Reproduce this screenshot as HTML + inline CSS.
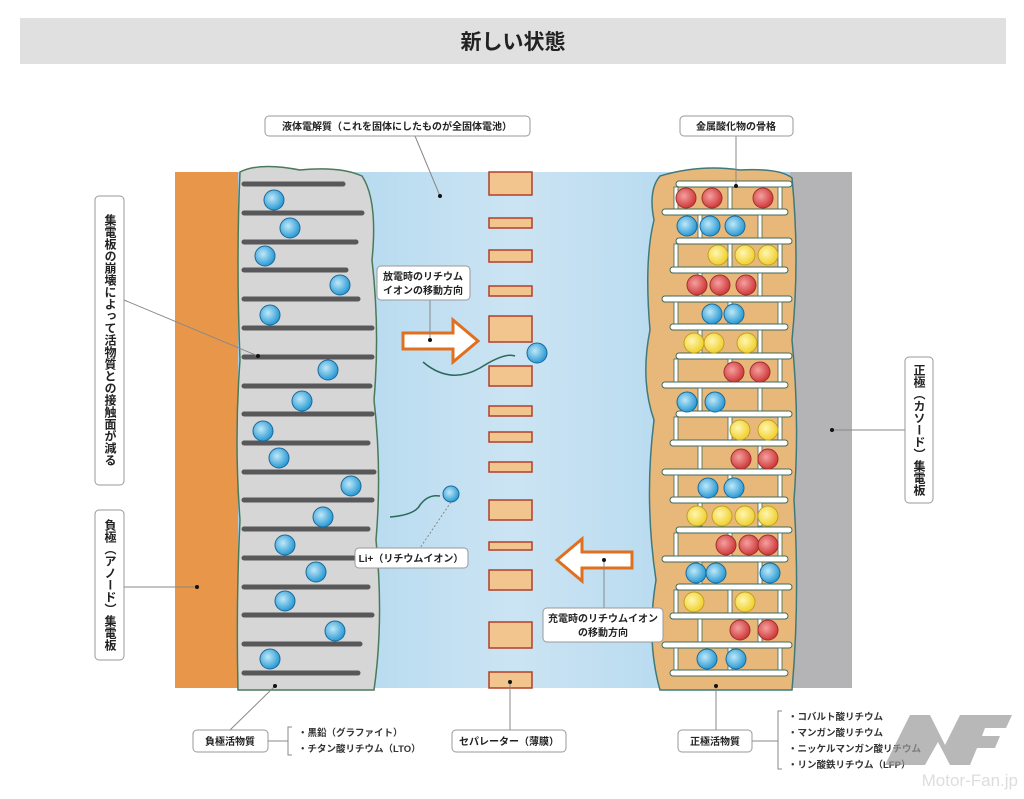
<!DOCTYPE html>
<html><head><meta charset="utf-8"><style>
body{margin:0;background:#fff;width:1024px;height:794px;overflow:hidden;font-family:"Liberation Sans","Noto Sans CJK JP",sans-serif}
svg text{font-family:"Liberation Sans","Noto Sans CJK JP",sans-serif;font-weight:bold}
</style></head><body>
<svg id="s" width="1024" height="794" viewBox="0 0 1024 794" xmlns="http://www.w3.org/2000/svg">
<defs>
<linearGradient id="el" x1="0" x2="1"><stop offset="0" stop-color="#a9d3ed"/><stop offset="0.5" stop-color="#cbe4f3"/><stop offset="1" stop-color="#a9d3ed"/></linearGradient>
<radialGradient id="bl" cx="0.4" cy="0.4" r="0.6"><stop offset="0" stop-color="#bfe8f8"/><stop offset="1" stop-color="#2a9ad4"/></radialGradient>
<radialGradient id="rd" cx="0.4" cy="0.4" r="0.6"><stop offset="0" stop-color="#f4a0a0"/><stop offset="1" stop-color="#d03a3a"/></radialGradient>
<radialGradient id="yl" cx="0.4" cy="0.4" r="0.6"><stop offset="0" stop-color="#fff6b0"/><stop offset="1" stop-color="#f0d030"/></radialGradient>
</defs>
<rect x="20" y="18" width="986" height="46" fill="#e0e0e0"/>
<text x="513" y="49" font-size="21" text-anchor="middle" fill="#222">新しい状態</text>
<rect x="175" y="172" width="64" height="516" fill="#e8964a"/>
<rect x="238" y="172" width="554" height="516" fill="url(#el)"/>
<rect x="790" y="172" width="62" height="516" fill="#b4b4b6"/>
<path d="M240 172 Q260 162 300 170 Q340 166 362 176 Q378 200 372 260 Q380 330 374 400 Q382 470 376 540 Q384 620 374 690 L238 690 Q236 600 240 520 Q234 440 240 360 Q236 260 240 172Z" fill="#d6d6d6" stroke="#4a7a5a" stroke-width="1.5"/>
<path d="M660 176 Q700 164 740 170 Q780 168 792 178 Q800 260 792 340 Q800 420 794 500 Q800 600 792 690 L660 690 Q646 640 656 580 Q644 500 654 420 Q640 380 650 330 Q644 260 654 220 Q648 190 660 176Z" fill="#e8b87a" stroke="#3f7a7a" stroke-width="1.5"/>
<g id="dyn"></g>
<path d="M403 333 H453 V320 L478 341 L453 362 V349 H403Z" fill="#fff" stroke="#e07020" stroke-width="3"/>
<path d="M632 552 H582 V539 L557 560 L582 581 V568 H632Z" fill="#fff" stroke="#e07020" stroke-width="3"/>
<path d="M423 362 Q450 385 480 368 Q505 352 515 356" fill="none" stroke="#2a6a5a" stroke-width="1.5"/>
<path d="M390 517 Q415 515 420 505 Q428 494 440 496" fill="none" stroke="#2a6a5a" stroke-width="1.5"/>
<circle cx="537" cy="353" r="10" fill="url(#bl)" stroke="#1a6a9a"/>
<circle cx="451" cy="494" r="8" fill="url(#bl)" stroke="#1a6a9a"/>
<g stroke="#888" stroke-width="1" fill="none">
<line x1="415" y1="136" x2="440" y2="196"/><line x1="736" y1="136" x2="736" y2="186"/>
<line x1="430" y1="300" x2="430" y2="340"/><line x1="124" y1="300" x2="258" y2="356"/>
<line x1="124" y1="587" x2="197" y2="587"/><line x1="832" y1="430" x2="905" y2="430"/>
<line x1="451" y1="502" x2="420" y2="548" stroke-dasharray="2 2"/>
<line x1="604" y1="560" x2="604" y2="610"/>
<line x1="275" y1="686" x2="230" y2="730"/><line x1="510" y1="682" x2="510" y2="730"/><line x1="716" y1="686" x2="716" y2="730"/>
<line x1="268" y1="741" x2="288" y2="741"/><path d="M292 727 H288 V755 H292"/>
<line x1="752" y1="741" x2="778" y2="741"/><path d="M782 711 H778 V769 H782"/>
</g>
<g fill="#111"><circle cx="258" cy="356" r="2"/><circle cx="197" cy="587" r="2"/><circle cx="832" cy="430" r="2"/><circle cx="440" cy="196" r="2"/><circle cx="736" cy="186" r="2"/><circle cx="430" cy="340" r="2"/><circle cx="604" cy="560" r="2"/><circle cx="275" cy="686" r="2"/><circle cx="510" cy="682" r="2"/><circle cx="716" cy="686" r="2"/></g>
<g fill="#fff" stroke="#999" stroke-width="1">
<rect x="265" y="116" width="265" height="20" rx="4"/><rect x="680" y="116" width="113" height="20" rx="4"/>
<rect x="377" y="266" width="93" height="34" rx="4"/><rect x="95" y="196" width="29" height="289" rx="4"/>
<rect x="95" y="510" width="29" height="150" rx="4"/><rect x="905" y="357" width="28" height="146" rx="4"/>
<rect x="355" y="548" width="113" height="20" rx="4"/><rect x="543" y="608" width="120" height="34" rx="4"/>
<rect x="193" y="730" width="75" height="22" rx="4"/><rect x="452" y="730" width="114" height="22" rx="4"/><rect x="678" y="730" width="74" height="22" rx="4"/>
</g>
<g font-size="10" fill="#222" text-anchor="middle">
<text x="397" y="130">液体電解質（これを固体にしたものが全固体電池）</text>
<text x="736" y="130">金属酸化物の骨格</text>
<text x="423" y="280">放電時のリチウム</text><text x="423" y="294">イオンの移動方向</text>
<text x="411" y="562">Li+（リチウムイオン）</text>
<text x="603" y="622">充電時のリチウムイオン</text><text x="603" y="636">の移動方向</text>
<text x="230" y="745">負極活物質</text><text x="509" y="745">セパレーター（薄膜）</text><text x="715" y="745">正極活物質</text>
</g>
<g font-size="12" fill="#222" text-anchor="middle">
<text x="110" y="340" style="writing-mode:tb">集電板の崩壊によって活物質との接触面が減る</text>
<text x="110" y="585" style="writing-mode:tb">負極（アノード）集電板</text>
<text x="919" y="430" style="writing-mode:tb">正極（カソード）集電板</text>
</g>
<g font-size="9.5" fill="#333">
<text x="298" y="736">・黒鉛（グラファイト）</text><text x="298" y="752">・チタン酸リチウム（LTO）</text>
<text x="788" y="720">・コバルト酸リチウム</text><text x="788" y="736">・マンガン酸リチウム</text>
<text x="788" y="752">・ニッケルマンガン酸リチウム</text><text x="788" y="768">・リン酸鉄リチウム（LFP）</text>
</g>
<path d="M885 765 L910 715 L930 715 L945 745 L960 715 L1012 715 L1006 728 L985 728 L982 736 L1000 736 L995 748 L977 748 L970 765 L950 765 L938 742 L925 765 L905 765 L915 742 L905 765Z" fill="#9a9a9a" opacity="0.7"/>
<text x="1018" y="786" font-size="17" fill="#ddd" text-anchor="end" style="font-weight:normal">Motor-Fan.jp</text>
</svg>
<script>
var g=document.getElementById('dyn'),h='';
var ly=[184,213,242,270,299,328,357,386,414,443,472,500,529,558,587,615,644,673];
var le=[343,362,356,346,358,372,372,370,372,368,374,372,368,372,368,372,360,358];
ly.forEach(function(y,i){h+='<line x1="244" y1="'+y+'" x2="'+le[i]+'" y2="'+y+'" stroke="#58585a" stroke-width="5" stroke-linecap="round"/>';});
[[274,200],[290,228],[265,256],[340,285],[270,315],[328,370],[302,401],[263,431],[279,458],[351,486],[323,517],[285,545],[316,572],[285,601],[335,631],[270,659]].forEach(function(p){h+='<circle cx="'+p[0]+'" cy="'+p[1]+'" r="10" fill="url(#bl)" stroke="#1a6a9a"/>';});
var sep=[[172,195],[218,228],[250,262],[286,296],[316,342],[366,386],[406,416],[432,442],[462,472],[500,520],[542,550],[570,590],[622,648],[672,688]];
sep.forEach(function(s){h+='<rect x="489" y="'+s[0]+'" width="43" height="'+(s[1]-s[0])+'" fill="#f3c58e" stroke="#b0402a" stroke-width="1.5"/>';});
var cy=[184,212,241,270,299,327,356,385,414,443,472,500,530,559,587,616,645,673];
cy.forEach(function(y,i){var x1=(i%3==1)?662:(i%2?670:676),x2=(i%2)?788:792;h+='<rect x="'+x1+'" y="'+(y-3)+'" width="'+(x2-x1)+'" height="6" rx="3" fill="#fff" stroke="#3f6a5a" stroke-width="1"/>';
if(i<cy.length-1){var xs=(i%2)?[700,760]:[676,730,780];xs.forEach(function(x){h+='<rect x="'+(x-2)+'" y="'+(y+3)+'" width="4" height="23" fill="#fff" stroke="#3f6a5a" stroke-width="0.8"/>';});}});
var sp=[[198,'rd',[686,712,763]],[226,'bl',[687,710,735]],[255,'yl',[718,745,768]],[285,'rd',[697,720,746]],[314,'bl',[712,734]],[343,'yl',[694,714,747]],[372,'rd',[734,760]],[402,'bl',[687,715]],[430,'yl',[740,768]],[459,'rd',[741,768]],[488,'bl',[708,734]],[516,'yl',[697,722,745,768]],[545,'rd',[726,749,768]],[573,'bl',[696,716,770]],[602,'yl',[694,745]],[630,'rd',[740,768]],[659,'bl',[707,736]]];
var sc={rd:'#a03030',bl:'#1a6a9a',yl:'#c0a020'};
sp.forEach(function(r){r[2].forEach(function(x){h+='<circle cx="'+x+'" cy="'+r[0]+'" r="10" fill="url(#'+r[1]+')" stroke="'+sc[r[1]]+'"/>';});});
g.innerHTML=h;
</script>
</body></html>
